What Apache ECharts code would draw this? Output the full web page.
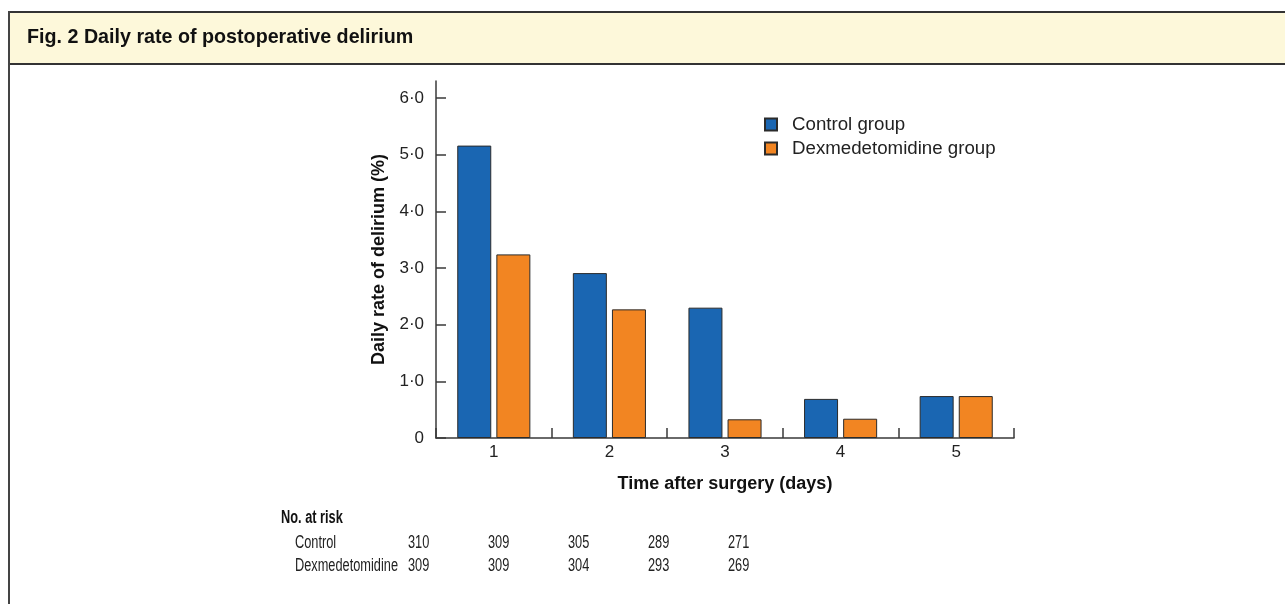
<!DOCTYPE html>
<html>
<head>
<meta charset="utf-8">
<script src="https://cdn.jsdelivr.net/npm/echarts@6/dist/echarts.min.js"></script>
<style>
html,body{margin:0;padding:0;background:#fff;}
#c{width:1285px;height:604px;}
</style>
</head>
<body>
<div id="c"></div>
<script>
var titleText = 'Fig. 2 Daily rate of postoperative delirium';
var days = ['1', '2', '3', '4', '5'];
var seriesNames = ['Control group', 'Dexmedetomidine group'];
var controlRate = [5.16, 2.91, 2.30, 0.69, 0.74];
var dexRate = [3.24, 2.27, 0.33, 0.34, 0.74];
var yTicks = [0, 1, 2, 3, 4, 5, 6];
var riskHeader = 'No. at risk';
var riskLabels = ['Control', 'Dexmedetomidine'];
var riskControl = [310, 309, 305, 289, 271];
var riskDex = [309, 309, 304, 293, 269];

var FONT = '"Liberation Sans", Arial, Helvetica, sans-serif';
var AX = '#3a3a3a';
var NARROW_SCALE = 0.71;

var chart = echarts.init(document.getElementById('c'), null, {renderer: 'canvas'});

var graphics = [
  {type: 'rect', shape: {x: 9, y: 12, width: 1285, height: 52}, style: {fill: '#fdf8da', stroke: null}, z: 0},
  {type: 'line', shape: {x1: 9, y1: 12, x2: 1285, y2: 12}, style: {stroke: '#333', lineWidth: 2}},
  {type: 'line', shape: {x1: 9, y1: 64, x2: 1285, y2: 64}, style: {stroke: '#333', lineWidth: 2}},
  {type: 'line', shape: {x1: 9, y1: 11, x2: 9, y2: 604}, style: {stroke: '#444', lineWidth: 2}},
  {type: 'text', x: 27, y: 38, style: {text: titleText, font: 'bold 19.7px ' + FONT, fill: '#111', textVerticalAlign: 'middle'}},
  {type: 'text', x: 281, y: 518, scaleX: NARROW_SCALE, style: {text: riskHeader, font: 'bold 18px ' + FONT, fill: '#111', textVerticalAlign: 'middle'}}
];
var rowY = [543, 566];
var rows = [riskControl, riskDex];
riskLabels.forEach(function (lab, r) {
  graphics.push({type: 'text', x: 295, y: rowY[r], scaleX: NARROW_SCALE, style: {text: lab, font: '18px ' + FONT, fill: '#222', textVerticalAlign: 'middle'}});
  rows[r].forEach(function (v, i) {
    graphics.push({type: 'text', x: 408 + 80 * i, y: rowY[r], scaleX: NARROW_SCALE, style: {text: String(v), font: '18px ' + FONT, fill: '#222', textVerticalAlign: 'middle'}});
  });
});

var option = {
  animation: false,
  backgroundColor: '#ffffff',
  textStyle: {fontFamily: FONT},
  grid: {left: 436, top: 81, width: 578, height: 357, containLabel: false, outerBoundsMode: 'none'},
  legend: {
    orient: 'vertical', left: 759, top: 110,
    itemWidth: 12, itemHeight: 12, itemGap: 5, icon: 'rect',
    textStyle: {fontSize: 18.7, color: '#222', fontFamily: FONT, padding: [0, 0, 0, 10]},
    data: seriesNames
  },
  xAxis: {
    type: 'category', data: days, boundaryGap: true,
    axisLine: {lineStyle: {color: AX, width: 1.5}},
    axisTick: {show: true, inside: true, length: 10, lineStyle: {color: AX, width: 1.5}},
    axisLabel: {fontSize: 17, color: '#222', margin: 6, fontFamily: FONT},
    name: 'Time after surgery (days)', nameLocation: 'middle', nameGap: 37,
    nameTextStyle: {fontSize: 18, fontWeight: 'bold', color: '#111', fontFamily: FONT}
  },
  yAxis: {
    type: 'value', min: 0, max: 6.3, interval: 1,
    axisLine: {show: true, lineStyle: {color: AX, width: 1.5}},
    axisTick: {show: true, inside: true, length: 10, lineStyle: {color: AX, width: 1.5}, customValues: yTicks},
    splitLine: {show: false},
    axisLabel: {
      fontSize: 17, color: '#222', margin: 12, fontFamily: FONT, customValues: yTicks,
      formatter: function (v) { return v === 0 ? '0' : v.toFixed(1).replace('.', '\u00B7'); }
    },
    name: 'Daily rate of delirium (%)', nameLocation: 'middle', nameRotate: 90, nameGap: 48,
    nameTextStyle: {fontSize: 18, fontWeight: 'bold', color: '#111', fontFamily: FONT}
  },
  series: [
    {name: seriesNames[0], type: 'bar', data: controlRate, barWidth: 34, barGap: '15%',
     itemStyle: {color: '#1a66b2', borderColor: '#2b2b2b', borderWidth: 1}},
    {name: seriesNames[1], type: 'bar', data: dexRate, barWidth: 34, barGap: '15%',
     itemStyle: {color: '#f28522', borderColor: '#2b2b2b', borderWidth: 1}}
  ],
  graphic: graphics
};
chart.setOption(option);
</script>
</body>
</html>
